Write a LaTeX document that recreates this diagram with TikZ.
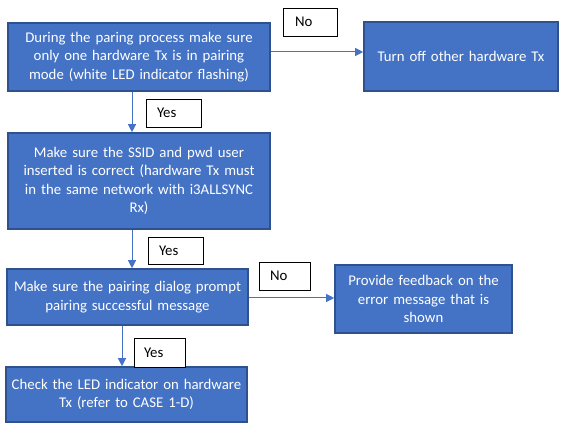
\documentclass[tikz,border=0pt]{standalone}
\usepackage{fontspec}
\setmainfont{Carlito}
\usetikzlibrary{arrows.meta}
\definecolor{boxfill}{HTML}{4472C4}
\definecolor{boxline}{HTML}{2F528F}
\definecolor{arr}{HTML}{4472C4}
\begin{document}
\begin{tikzpicture}[x=1pt,y=-1pt,
  stepbox/.style={draw=boxline,line width=1.6pt,fill=boxfill,text=white,align=center,inner sep=0pt,
    font=\fontsize{14.8}{18.5}\selectfont},
  lbl/.style={draw=black,line width=0.8pt,fill=white,inner sep=0pt,text width=#1,
    font=\fontsize{14.8}{17}\selectfont},
  flow/.style={draw=arr,line width=1pt,-{Triangle[width=8pt,length=8pt]}}]
\useasboundingbox (0,0) rectangle (570,435);
% boxes
\node[stepbox,minimum width=262pt,minimum height=68pt,text width=252pt] (b1) at (139,57)
  {During the paring process make sure\\only one hardware Tx is in pairing\\mode (white LED indicator flashing)};
\node[stepbox,minimum width=194pt,minimum height=69pt,text width=185pt] (r1) at (461,56.5)
  {Turn off other hardware Tx};
\node[stepbox,minimum width=262pt,minimum height=96pt,text width=252pt] (b2) at (139,181)
  {Make sure the SSID and pwd user\\inserted is correct (hardware Tx must\\in the same network with i3ALLSYNC\\Rx)};
\node[stepbox,minimum width=241pt,minimum height=56pt,text width=234pt] (b3) at (127.5,297)
  {Make sure the pairing dialog prompt\\pairing successful message};
\node[stepbox,minimum width=177pt,minimum height=68pt,text width=170pt] (r2) at (423.5,299)
  {Provide feedback on the\\error message that is\\shown};
\node[stepbox,minimum width=241pt,minimum height=55pt,text width=234pt] (b4) at (126.5,394.5)
  {Check the LED indicator on hardware\\Tx (refer to CASE 1-D)};
% labels
\node[lbl=55pt,minimum height=28pt] (y1) at (173.5,113) {\hspace*{11pt}Yes};
\node[lbl=54pt,minimum height=28pt] (n1) at (310,22) {\hspace*{12pt}No};
\node[lbl=55pt,minimum height=27pt] (y2) at (175.5,250.5) {\hspace*{11pt}Yes};
\node[lbl=51pt,minimum height=28pt] (n2) at (284.5,276) {\hspace*{11pt}No};
\node[lbl=51pt,minimum height=29pt] (y3) at (159.5,352.5) {\hspace*{10pt}Yes};
% helper coordinates
\coordinate (xa) at (132,0);
\coordinate (xb) at (122,0);
\coordinate (ya) at (0,52);
\coordinate (yb) at (0,298);
% connectors
\draw[flow] (b1.south -| xa) -- (b2.north -| xa);
\draw[flow] (b2.south -| xa) -- (b3.north -| xa);
\draw[flow] (b3.south -| xb) -- (b4.north -| xb);
\draw[flow] (b1.east |- ya) -- (r1.west |- ya);
\draw[flow] (b3.east |- yb) -- (r2.west |- yb);
\end{tikzpicture}
\end{document}
